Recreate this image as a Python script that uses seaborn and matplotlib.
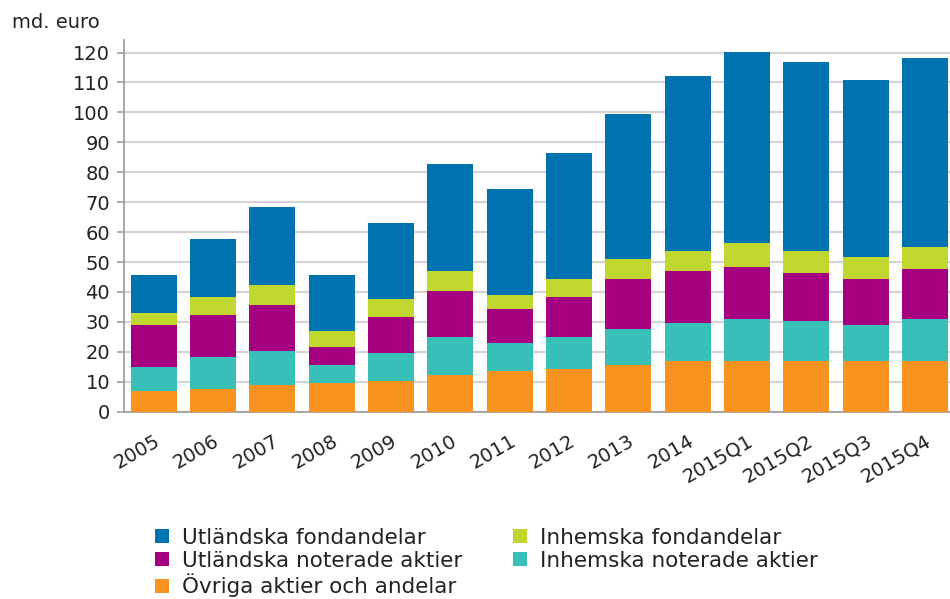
import numpy as np
import pandas as pd
import matplotlib
matplotlib.use("Agg")
import matplotlib.pyplot as plt
import seaborn as sns
from matplotlib.lines import Line2D

# Data (md. euro)
periods = ["2005", "2006", "2007", "2008", "2009", "2010", "2011", "2012",
           "2013", "2014", "2015Q1", "2015Q2", "2015Q3", "2015Q4"]
ovriga = [6.8, 7.5, 8.8, 9.5, 10.1, 12.1, 13.5, 14.2, 15.5, 16.8, 16.8, 16.8, 16.8, 16.8]
inh_aktier = [8.0, 10.7, 11.4, 6.0, 9.4, 12.7, 9.3, 10.8, 12.1, 12.7, 14.2, 13.4, 12.1, 14.1]
utl_aktier = [14.2, 14.1, 15.5, 6.1, 12.3, 15.5, 11.4, 13.3, 16.9, 17.6, 17.5, 16.3, 15.6, 16.9]
inh_fond = [4.0, 6.1, 6.6, 5.4, 6.0, 6.8, 4.7, 6.2, 6.6, 6.7, 8.0, 7.3, 7.3, 7.4]
utl_fond = [12.7, 19.4, 26.2, 18.7, 25.4, 35.6, 35.6, 42.1, 48.3, 58.3, 63.6, 63.0, 59.0, 62.9]

series = [
    ("Övriga aktier och andelar", ovriga, "#F7931E"),
    ("Inhemska noterade aktier", inh_aktier, "#36C0B7"),
    ("Utländska noterade aktier", utl_aktier, "#A5007F"),
    ("Inhemska fondandelar", inh_fond, "#C0D730"),
    ("Utländska fondandelar", utl_fond, "#0072B0"),
]

df = pd.DataFrame({name: vals for name, vals, _ in series}, index=periods)
cum = df.cumsum(axis=1)

sns.set_style("white")
plt.rcParams["font.family"] = ["DejaVu Sans"]

fig = plt.figure(figsize=(9.5, 5.99), dpi=100)
ax = fig.add_axes([124 / 950, 1 - 411.7 / 599, 1 - 124 / 950, (411.7 - 40) / 599])

# stacked bars: draw cumulative totals from the top layer down
for name, _, color in reversed(series):
    sns.barplot(x=periods, y=cum[name].values, color=color, saturation=1,
                width=0.776, ax=ax, linewidth=0, zorder=3)

ax.set_xlim(-0.5, 13.42)
ax.set_ylim(0, 124.2)
ax.set_yticks(range(0, 121, 10))
ax.yaxis.grid(True, color="#d4d4d4", linewidth=1.6, zorder=0)
ax.xaxis.grid(False)
ax.set_axisbelow(True)

for s in ["top", "right"]:
    ax.spines[s].set_visible(False)
for s in ["left", "bottom"]:
    ax.spines[s].set_color("#a0a0a0")
    ax.spines[s].set_linewidth(1.3)

ax.tick_params(axis="y", length=5, width=1.2, color="#a0a0a0", pad=5,
               labelsize=14, labelcolor="#222222", left=True)
ax.tick_params(axis="x", length=0, pad=14, labelsize=14, labelcolor="#222222")
plt.setp(ax.get_xticklabels(), rotation=30, ha="right", va="top",
         rotation_mode="anchor")

ax.set_xlabel("")
ax.set_ylabel("")
fig.text(12 / 950, 1 - 22 / 599, "md. euro", fontsize=14, color="#222222",
         va="center", ha="left")

# legend: row-major order in two columns
order = [4, 2, 0, 3, 1]
handles = [Line2D([], [], marker="s", linestyle="none", markersize=10,
                  markerfacecolor=series[i][2], markeredgewidth=0)
           for i in order]
labels = [series[i][0] for i in order]
fig.legend(handles, labels, loc="upper left",
           bbox_to_anchor=(151 / 950, 1 - 528 / 599), ncol=2, frameon=False,
           fontsize=15.5, handlelength=1.0, handletextpad=0.45,
           columnspacing=2.15, labelspacing=0.13, borderaxespad=0,
           borderpad=0, labelcolor="#222222")

fig.savefig("out.png", dpi=100)
